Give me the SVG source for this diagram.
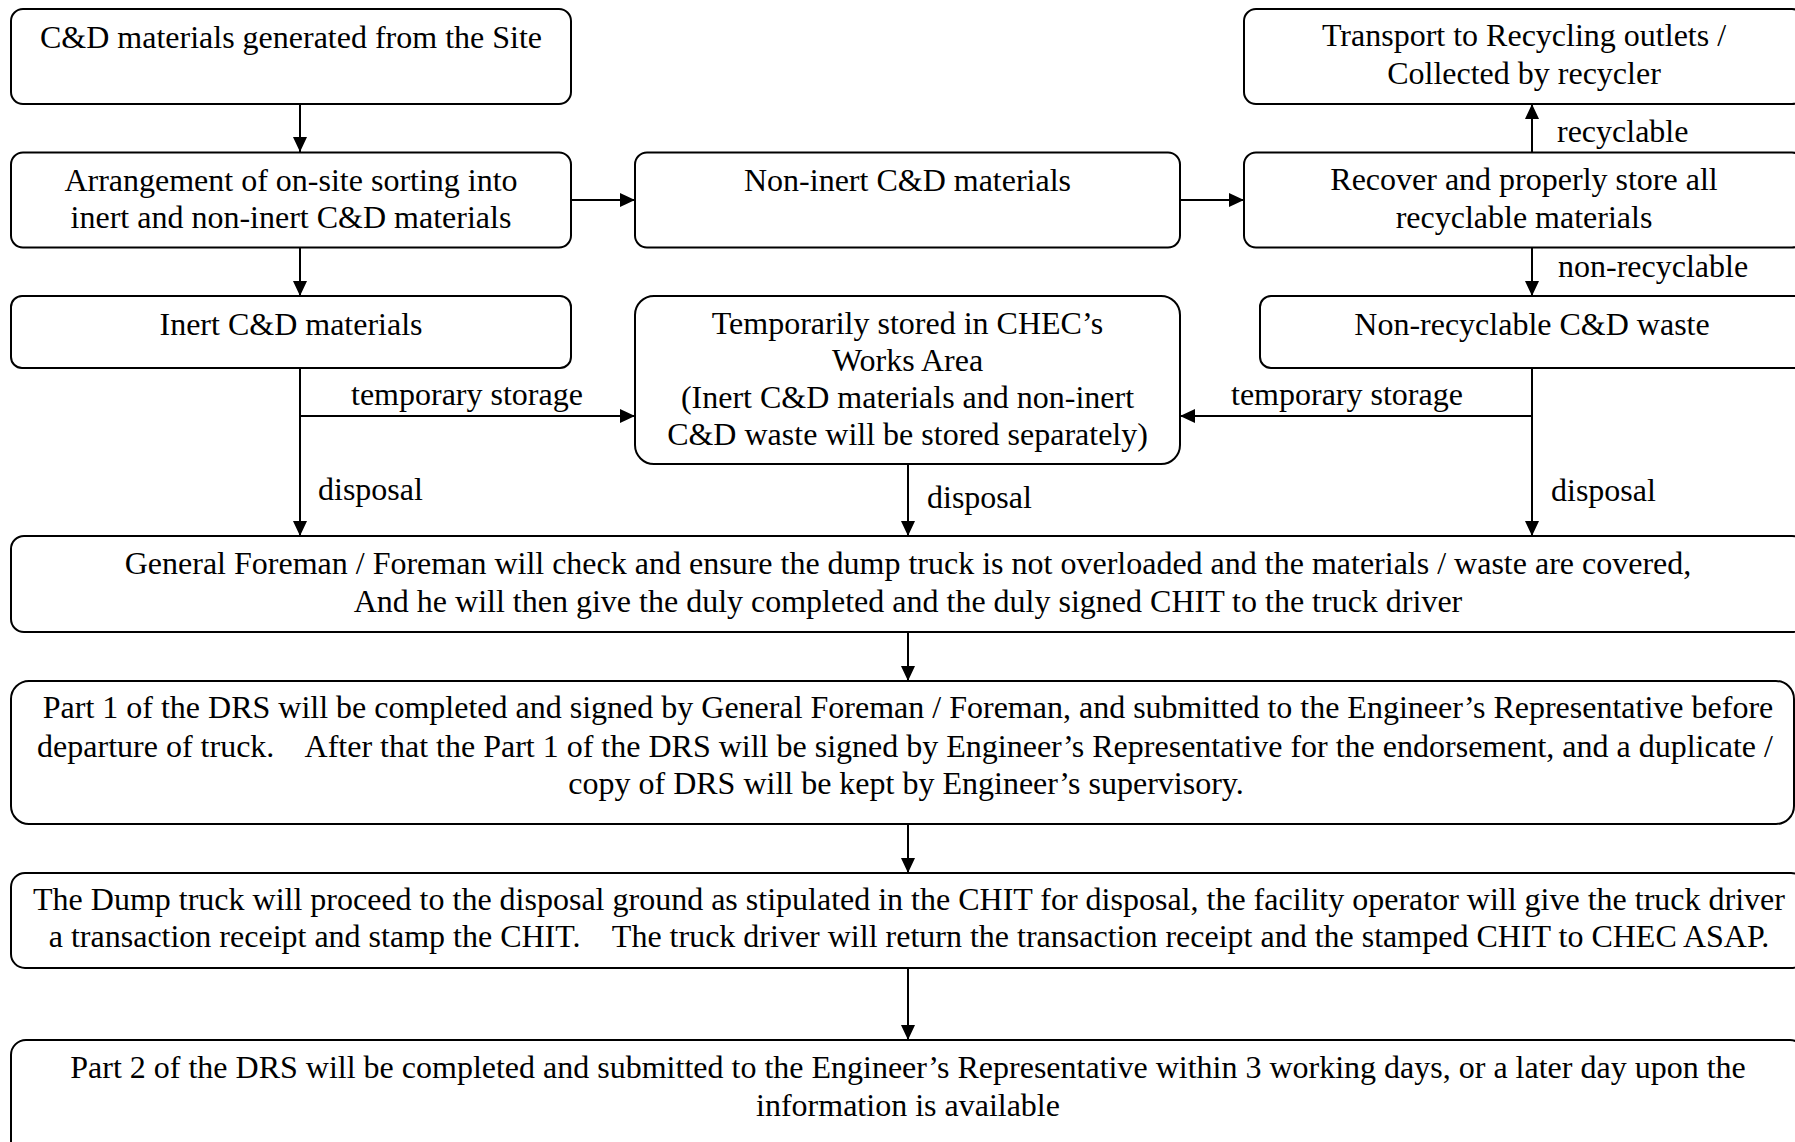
<svg xmlns="http://www.w3.org/2000/svg" width="1795" height="1142" viewBox="0 0 1795 1142">
<style>
.box{fill:#fff;stroke:#000;stroke-width:2}
.t{font-family:"Liberation Serif","Times New Roman",serif;font-size:32px;fill:#000;white-space:pre}
.c{text-anchor:middle}
.ln{fill:none;stroke:#000;stroke-width:2}
</style>
<defs>
<marker id="arr" markerUnits="userSpaceOnUse" markerWidth="15" markerHeight="14" refX="15" refY="7" orient="auto">
<path d="M0,0 L15,7 L0,14 z" fill="#000"/>
</marker>
</defs>
<rect width="1795" height="1142" fill="#fff"/>
<g id="connectors">
<path class="ln" d="M300,104 V152" marker-end="url(#arr)"/>
<path class="ln" d="M300,248 V296" marker-end="url(#arr)"/>
<path class="ln" d="M300,368 V536" marker-end="url(#arr)"/>
<path class="ln" d="M300,416 H635" marker-end="url(#arr)"/>
<path class="ln" d="M571,200 H635" marker-end="url(#arr)"/>
<path class="ln" d="M1180,200 H1244" marker-end="url(#arr)"/>
<path class="ln" d="M1532,152 V104" marker-end="url(#arr)"/>
<path class="ln" d="M1532,248 V296" marker-end="url(#arr)"/>
<path class="ln" d="M1532,368 V536" marker-end="url(#arr)"/>
<path class="ln" d="M1532,416 H1180" marker-end="url(#arr)"/>
<path class="ln" d="M908,464 V536" marker-end="url(#arr)"/>
<path class="ln" d="M908,632 V681" marker-end="url(#arr)"/>
<path class="ln" d="M908,824 V873" marker-end="url(#arr)"/>
<path class="ln" d="M908,968 V1040" marker-end="url(#arr)"/>
<text class="t" x="351" y="405">temporary storage</text>
<text class="t" x="1231" y="405">temporary storage</text>
<text class="t" x="318" y="500">disposal</text>
<text class="t" x="927" y="508">disposal</text>
<text class="t" x="1551" y="501">disposal</text>
<text class="t" x="1557" y="142">recyclable</text>
<text class="t" x="1558" y="277">non-recyclable</text>
</g>
<g id="node-generated">
<rect class="box" x="11" y="9" width="560" height="95" rx="12"/>
<text class="t c" x="291" y="48">C&amp;D materials generated from the Site</text>
</g>
<g id="node-sorting">
<rect class="box" x="11" y="152.5" width="560" height="95" rx="12"/>
<text class="t c" x="291" y="191">Arrangement of on-site sorting into</text>
<text class="t c" x="291" y="228">inert and non-inert C&amp;D materials</text>
</g>
<g id="node-inert">
<rect class="box" x="11" y="296" width="560" height="72" rx="11"/>
<text class="t c" x="291" y="335">Inert C&amp;D materials</text>
</g>
<g id="node-noninert">
<rect class="box" x="635" y="152.5" width="545" height="95" rx="12"/>
<text class="t c" x="907.5" y="191">Non-inert C&amp;D materials</text>
</g>
<g id="node-temp">
<rect class="box" x="635" y="296" width="545" height="168" rx="19"/>
<text class="t c" x="907.5" y="334">Temporarily stored in CHEC’s</text>
<text class="t c" x="907.5" y="371">Works Area</text>
<text class="t c" x="907.5" y="408">(Inert C&amp;D materials and non-inert</text>
<text class="t c" x="907.5" y="445">C&amp;D waste will be stored separately)</text>
</g>
<g id="node-transport">
<rect class="box" x="1244" y="9" width="560" height="95" rx="12"/>
<text class="t c" x="1524" y="46">Transport to Recycling outlets /</text>
<text class="t c" x="1524" y="84">Collected by recycler</text>
</g>
<g id="node-recover">
<rect class="box" x="1244" y="152.5" width="560" height="95" rx="12"/>
<text class="t c" x="1524" y="190">Recover and properly store all</text>
<text class="t c" x="1524" y="228">recyclable materials</text>
</g>
<g id="node-nonrecyclable">
<rect class="box" x="1260" y="296" width="545" height="72" rx="11"/>
<text class="t c" x="1532" y="335">Non-recyclable C&amp;D waste</text>
</g>
<g id="node-foreman">
<rect class="box" x="11" y="536" width="1794" height="96" rx="13"/>
<text class="t c" x="908" y="574">General Foreman / Foreman will check and ensure the dump truck is not overloaded and the materials / waste are covered,</text>
<text class="t c" x="908" y="612">And he will then give the duly completed and the duly signed CHIT to the truck driver</text>
</g>
<g id="node-part1">
<rect class="box" x="11" y="681" width="1783" height="143" rx="18"/>
<text class="t c" x="908" y="718">Part 1 of the DRS will be completed and signed by General Foreman / Foreman, and submitted to the Engineer’s Representative before</text>
<text class="t c" x="905" y="757">departure of truck.    After that the Part 1 of the DRS will be signed by Engineer’s Representative for the endorsement, and a duplicate /</text>
<text class="t c" x="906" y="794">copy of DRS will be kept by Engineer’s supervisory.</text>
</g>
<g id="node-dumptruck">
<rect class="box" x="11" y="873" width="1794" height="95" rx="14"/>
<text class="t c" x="909" y="910">The Dump truck will proceed to the disposal ground as stipulated in the CHIT for disposal, the facility operator will give the truck driver</text>
<text class="t c" x="909" y="947">a transaction receipt and stamp the CHIT.    The truck driver will return the transaction receipt and the stamped CHIT to CHEC ASAP.</text>
</g>
<g id="node-part2">
<rect class="box" x="11" y="1040" width="1794" height="120" rx="15"/>
<text class="t c" x="908" y="1078">Part 2 of the DRS will be completed and submitted to the Engineer’s Representative within 3 working days, or a later day upon the</text>
<text class="t c" x="908" y="1116">information is available</text>
</g>
</svg>
